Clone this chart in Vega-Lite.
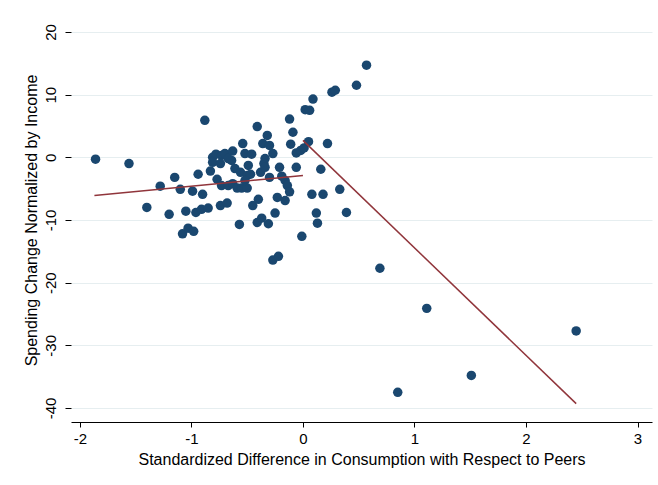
{
  "$schema": "https://vega.github.io/schema/vega-lite/v6.json",
  "width": 581,
  "height": 404,
  "autosize": {"type": "none"},
  "padding": {"left": 71, "top": 18, "right": 6, "bottom": 63},
  "background": "white",
  "config": {
    "view": {"stroke": null},
    "font": "Liberation Sans",
    "axis": {
      "labelFont": "Liberation Sans",
      "titleFont": "Liberation Sans",
      "labelColor": "#000000",
      "titleColor": "#000000",
      "titleFontWeight": "normal",
      "domainColor": "#000000",
      "tickColor": "#000000",
      "labelFontSize": 15,
      "titleFontSize": 16
    }
  },
  "datasets": {
    "points": [
      {"x": -1.86, "y": -0.3}, {"x": -1.56, "y": -1.0}, {"x": -1.40, "y": -8.0}, {"x": -1.28, "y": -4.6},
      {"x": -1.20, "y": -9.1}, {"x": -1.15, "y": -3.2}, {"x": -1.10, "y": -5.1}, {"x": -1.08, "y": -12.2},
      {"x": -1.03, "y": -11.3}, {"x": -0.98, "y": -11.8}, {"x": -1.05, "y": -8.6}, {"x": -0.96, "y": -8.8},
      {"x": -0.91, "y": -8.3}, {"x": -0.85, "y": -8.1}, {"x": -0.74, "y": -7.7}, {"x": -0.68, "y": -7.3},
      {"x": -0.99, "y": -5.4}, {"x": -0.90, "y": -5.9}, {"x": -0.94, "y": -2.7}, {"x": -0.88, "y": 5.9},
      {"x": -0.83, "y": -2.2}, {"x": -0.81, "y": 0.0}, {"x": -0.78, "y": 0.5}, {"x": -0.73, "y": 0.3},
      {"x": -0.70, "y": 0.6}, {"x": -0.64, "y": -0.5}, {"x": -0.81, "y": -0.8}, {"x": -0.74, "y": -1.0},
      {"x": -0.67, "y": -0.2}, {"x": -0.63, "y": 1.0}, {"x": -0.77, "y": -3.5}, {"x": -0.73, "y": -4.5},
      {"x": -0.67, "y": -4.5}, {"x": -0.63, "y": -4.2}, {"x": -0.57, "y": -10.7}, {"x": -0.61, "y": -1.8},
      {"x": -0.56, "y": -2.4}, {"x": -0.54, "y": 2.2}, {"x": -0.52, "y": 0.6}, {"x": -0.46, "y": 0.5},
      {"x": -0.49, "y": -1.3}, {"x": -0.50, "y": -2.9}, {"x": -0.47, "y": -2.7}, {"x": -0.59, "y": -4.9},
      {"x": -0.55, "y": -4.9}, {"x": -0.50, "y": -4.9}, {"x": -0.52, "y": -3.7}, {"x": -0.45, "y": -7.7},
      {"x": -0.40, "y": -6.7}, {"x": -0.41, "y": 4.9}, {"x": -0.41, "y": -10.4}, {"x": -0.37, "y": -9.7},
      {"x": -0.31, "y": -10.6}, {"x": -0.25, "y": -8.9}, {"x": -0.32, "y": 3.5}, {"x": -0.36, "y": 2.2},
      {"x": -0.30, "y": 1.9}, {"x": -0.27, "y": 0.6}, {"x": -0.34, "y": -0.2}, {"x": -0.35, "y": -1.0},
      {"x": -0.38, "y": -2.4}, {"x": -0.34, "y": -1.6}, {"x": -0.30, "y": -3.2}, {"x": -0.21, "y": -1.6},
      {"x": -0.19, "y": -3.0}, {"x": -0.16, "y": -3.7}, {"x": -0.14, "y": -4.5}, {"x": -0.12, "y": -5.5},
      {"x": -0.23, "y": -6.4}, {"x": -0.16, "y": -6.9}, {"x": -0.27, "y": -16.4}, {"x": -0.22, "y": -15.8},
      {"x": -0.12, "y": 6.1}, {"x": -0.09, "y": 4.0}, {"x": -0.11, "y": 2.1}, {"x": -0.06, "y": 0.7},
      {"x": -0.02, "y": 1.1}, {"x": 0.01, "y": 1.5}, {"x": -0.06, "y": -1.6}, {"x": -0.01, "y": -12.6},
      {"x": 0.02, "y": 7.6}, {"x": 0.06, "y": 7.5}, {"x": 0.09, "y": 9.3}, {"x": 0.26, "y": 10.4},
      {"x": 0.29, "y": 10.7}, {"x": 0.48, "y": 11.5}, {"x": 0.57, "y": 14.7}, {"x": 0.05, "y": 2.5},
      {"x": 0.22, "y": 2.2}, {"x": 0.16, "y": -1.9}, {"x": 0.08, "y": -5.9}, {"x": 0.18, "y": -5.9},
      {"x": 0.33, "y": -5.1}, {"x": 0.12, "y": -8.9}, {"x": 0.39, "y": -8.8}, {"x": 0.13, "y": -10.5},
      {"x": 0.69, "y": -17.7}, {"x": 1.11, "y": -24.1}, {"x": 2.45, "y": -27.7}, {"x": 0.85, "y": -37.5},
      {"x": 1.51, "y": -34.8}
    ],
    "fits": [
      {"seg": "left", "x": -1.87, "y": -6.1},
      {"seg": "left", "x": 0.0, "y": -2.9},
      {"seg": "right", "x": 0.0, "y": 2.7},
      {"seg": "right", "x": 2.45, "y": -39.3}
    ]
  },
  "layer": [
    {
      "data": {"name": "points"},
      "mark": {"type": "point", "opacity": 0},
      "encoding": {
        "x": {
          "field": "x", "type": "quantitative",
          "scale": {"domain": [-2.08, 3.13], "nice": false, "zero": false},
          "axis": {
            "values": [-2, -1, 0, 1, 2, 3],
            "labelExpr": "datum.value + ''",
            "grid": false,
            "tickSize": 5,
            "labelPadding": 4,
            "titlePadding": 5,
            "labelFlush": false
          },
          "title": "Standardized Difference in Consumption with Respect to Peers"
        },
        "y": {
          "field": "y", "type": "quantitative",
          "scale": {"domain": [-42.23, 22.23], "nice": false, "zero": false},
          "axis": {
            "values": [-40, -30, -20, -10, 0, 10, 20],
            "labelExpr": "datum.value + ''",
            "grid": true,
            "gridColor": "#e6eef0",
            "gridWidth": 1,
            "domain": false,
            "tickSize": 6,
            "labelAngle": -90,
            "labelAlign": "center",
            "labelBaseline": "alphabetic",
            "labelPadding": 10,
            "titlePadding": 4,
            "labelFlush": false
          },
          "title": "Spending Change Normalized by Income"
        }
      }
    },
    {
      "mark": {"type": "rule", "color": "#888888", "strokeWidth": 1.5, "strokeDash": [10, 6]},
      "encoding": {
        "x": {"datum": 0, "type": "quantitative"}
      }
    },
    {
      "mark": {"type": "rule", "color": "#000000", "strokeWidth": 1},
      "encoding": {
        "x": {"datum": -2.08, "type": "quantitative"},
        "y": {"datum": -40, "type": "quantitative"},
        "y2": {"datum": 20}
      }
    },
    {
      "data": {"name": "points"},
      "mark": {"type": "circle", "size": 90, "color": "#1a476f", "opacity": 1},
      "encoding": {
        "x": {"field": "x", "type": "quantitative"},
        "y": {"field": "y", "type": "quantitative"}
      }
    },
    {
      "data": {"name": "fits"},
      "mark": {"type": "line", "color": "#90353b", "strokeWidth": 1.5},
      "encoding": {
        "x": {"field": "x", "type": "quantitative"},
        "y": {"field": "y", "type": "quantitative"},
        "detail": {"field": "seg"}
      }
    }
  ]
}
